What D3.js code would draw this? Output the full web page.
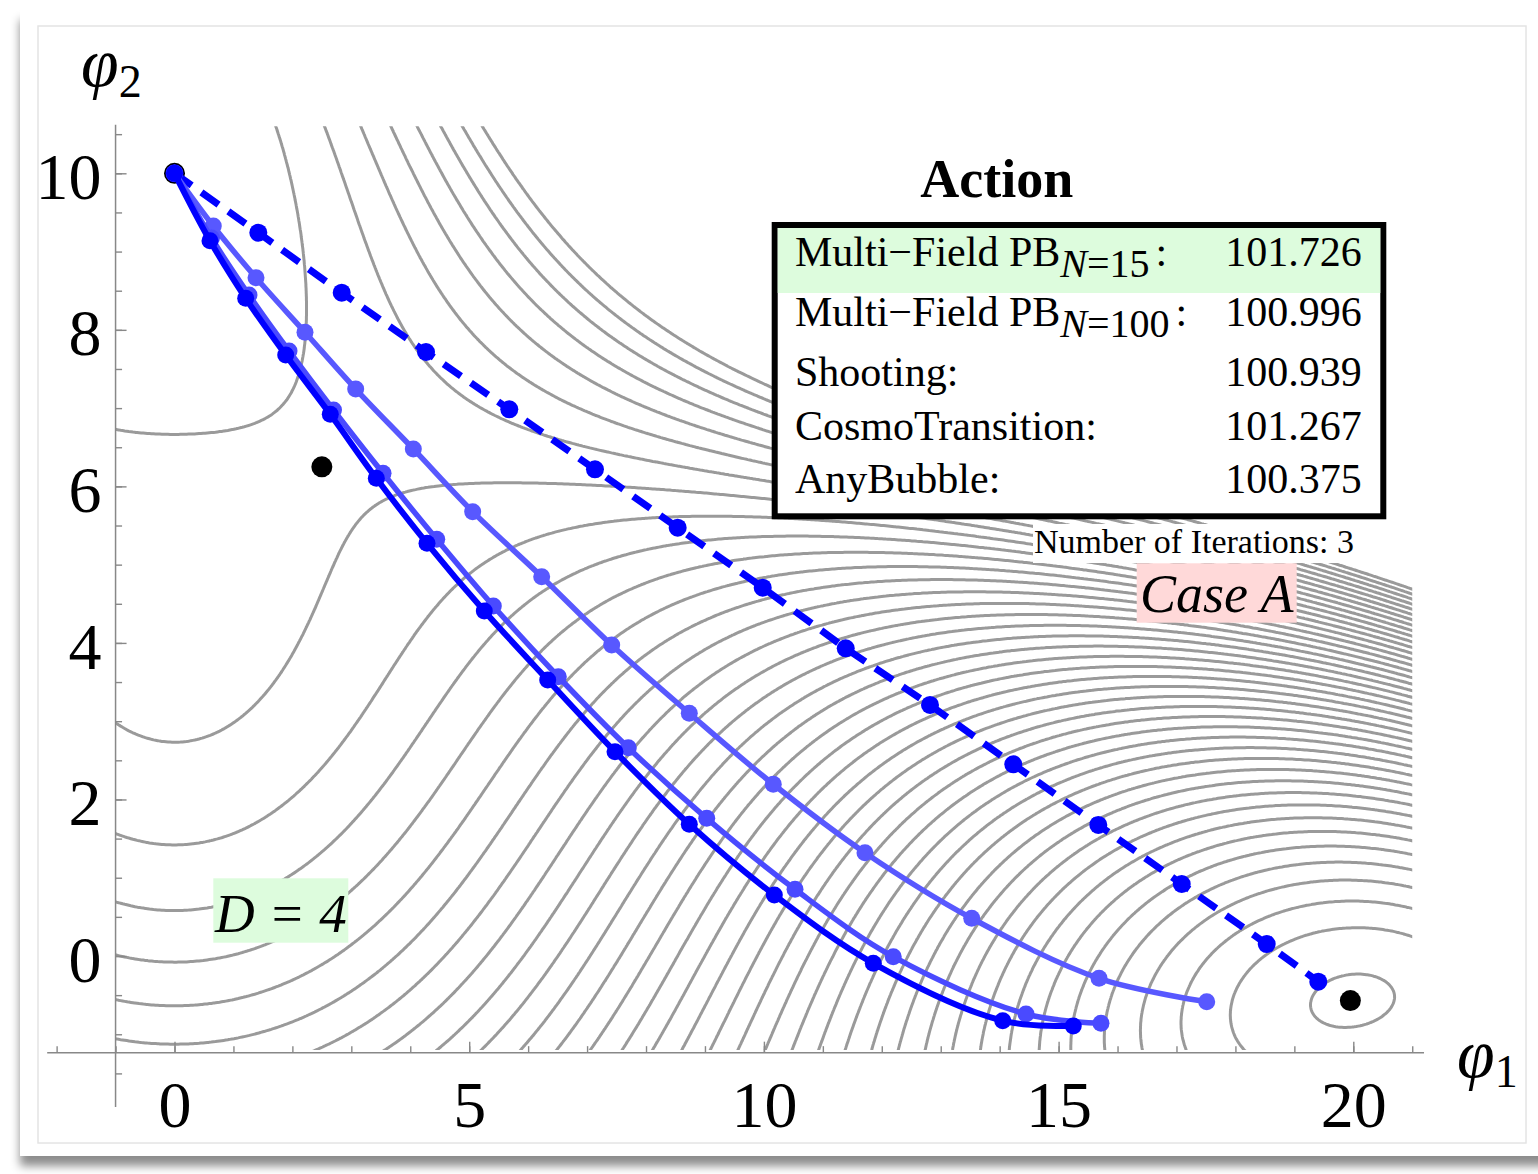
<!DOCTYPE html>
<html lang="en">
<head>
<meta charset="UTF-8">
<title>Case A: multi-field bounce paths</title>
<script src="https://d3js.org/d3.v7.min.js"></script>
<style>
  body { margin: 0; background: #fff; }
  text { font-family: "Liberation Serif", "Times New Roman", serif; fill: #000; }
  .contour { fill: none; stroke: #9a9a9a; stroke-width: 3; }
</style>
</head>
<body>
<script>
// ---------- data ----------
// potential V(phi1, phi2) as terms [coefficient, power of phi1, power of phi2]
const potentialTerms = [
  [1, 4, 0], [20.6, 2, 2], [2.0997, 0, 4], [-1.54, 2, 1],
  [23.20, 0, 3], [-807.6, 2, 0], [-1198.6, 0, 2], [8612.3, 0, 1]
];
const contourBase = 15170;
const contourStep = 5285;
const contourLevels = d3.range(-34, 8).map(k => contourBase + k * contourStep);

// straight initial guess (dashed)
const initialPath = [
  [0, 10], [1.422, 9.241], [2.837, 8.475], [4.267, 7.717], [5.680, 6.985],
  [7.134, 6.218], [8.537, 5.472], [9.980, 4.706], [11.388, 3.931], [12.818, 3.207],
  [14.231, 2.449], [15.674, 1.674], [17.089, 0.920], [18.531, 0.153], [19.406, -0.328]
];
// iterations 1..3
const iteration1 = [
  [0, 10], [0.658, 9.327], [1.383, 8.666], [2.214, 7.969], [3.074, 7.244],
  [4.052, 6.478], [5.059, 5.677], [6.230, 4.846], [7.418, 3.973], [8.734, 3.101],
  [10.159, 2.194], [11.715, 1.320], [13.526, 0.482], [15.686, -0.285], [17.513, -0.584]
];
const iteration2 = [
  [0, 10], [0.628, 9.173], [1.264, 8.445], [1.943, 7.730], [2.698, 6.976],
  [3.538, 6.167], [4.449, 5.324], [5.409, 4.472], [6.512, 3.568], [7.699, 2.661],
  [9.030, 1.759], [10.528, 0.852], [12.195, -0.009], [14.447, -0.741], [15.719, -0.860]
];
const iteration3 = [
  [0, 10], [0.602, 9.139], [1.208, 8.403], [1.887, 7.679], [2.643, 6.921],
  [3.424, 6.103], [4.284, 5.273], [5.256, 4.408], [6.332, 3.526], [7.474, 2.610],
  [8.734, 1.683], [10.177, 0.779], [11.856, -0.093], [14.052, -0.827], [15.249, -0.894]
];
// false vacuum, saddle, true vacuum
const stationaryPoints = [[0, 10], [2.5, 6.25], [19.95, -0.57]];

const xMajorTicks = [0, 5, 10, 15, 20];
const yMajorTicks = [0, 2, 4, 6, 8, 10];

const methodNames = ["Multi\u2212Field PB", "Multi\u2212Field PB", "Shooting:", "CosmoTransition:", "AnyBubble:"];
const methodSubscripts = ["15", "100", null, null, null];
const actionValues = [101.726, 100.996, 100.939, 101.267, 100.375];

// ---------- setup ----------
const W = 1538, H = 1174;
const svg = d3.select("body").append("svg").attr("width", W).attr("height", H);

const xScale = d3.scaleLinear().domain([0, 20]).range([174.5, 1353.3]);
const yScale = d3.scaleLinear().domain([0, 10]).range([956, 173.3]);

const defs = svg.append("defs");
const shadow = defs.append("filter").attr("id", "shadow")
  .attr("x", "-5%").attr("y", "-5%").attr("width", "110%").attr("height", "115%");
shadow.append("feDropShadow").attr("dx", 0).attr("dy", 10).attr("stdDeviation", 5)
  .attr("flood-color", "#000").attr("flood-opacity", 0.45);

defs.append("clipPath").attr("id", "plotClip").append("rect")
  .attr("x", xScale(-1)).attr("y", yScale(10.6))
  .attr("width", xScale(21) - xScale(-1))
  .attr("height", yScale(-1.2) - yScale(10.6));

// window card + inner frame
svg.append("rect").attr("x", 20).attr("y", 10).attr("width", 1540).attr("height", 1146)
  .attr("fill", "#fff").attr("filter", "url(#shadow)");
svg.append("rect").attr("x", 38).attr("y", 26).attr("width", 1488).attr("height", 1117)
  .attr("fill", "#fff").attr("stroke", "#e4e4e4").attr("stroke-width", 1.5);

// ---------- contours ----------
const V = (x, y) => {
  let s = 0;
  for (const [c, px, py] of potentialTerms) s += c * Math.pow(x, px) * Math.pow(y, py);
  return s;
};
const gx0 = -1.3, gx1 = 21.3, gy0 = -1.5, gy1 = 10.9, gdx = 0.035, gdy = 0.018;
const nx = Math.round((gx1 - gx0) / gdx) + 1;
const ny = Math.round((gy1 - gy0) / gdy) + 1;
const grid = new Float64Array(nx * ny);
for (let j = 0; j < ny; j++) {
  const y = gy0 + j * gdy;
  for (let i = 0; i < nx; i++) grid[j * nx + i] = V(gx0 + i * gdx, y);
}
const contours = d3.contours().size([nx, ny]).thresholds(contourLevels)(grid);

const toPx = ([cx, cy]) =>
  xScale(gx0 + (cx - 0.5) * gdx).toFixed(1) + "," + yScale(gy0 + (cy - 0.5) * gdy).toFixed(1);
const ringPath = mp => mp.coordinates
  .map(poly => poly.map(ring => "M" + ring.map(toPx).join("L") + "Z").join(""))
  .join("");

svg.append("g").attr("clip-path", "url(#plotClip)")
  .selectAll("path").data(contours).join("path")
  .attr("class", "contour").attr("d", ringPath);

// ---------- axes ----------
const axisColor = "#888";
const xAxisY = yScale(-1.235);
const xg = svg.append("g").attr("transform", `translate(0,${xAxisY})`).attr("color", axisColor);
xg.append("g").call(d3.axisBottom(xScale).tickValues(d3.range(-2, 22)).tickSize(-6.5).tickFormat(""));
xg.append("g").call(d3.axisBottom(xScale).tickValues(xMajorTicks).tickSize(-11).tickFormat(d3.format("d")));
xg.selectAll(".domain").remove();
xg.selectAll(".tick line").attr("stroke-width", 1.4);
xg.selectAll("g").attr("font-family", null).attr("font-size", null);
xg.selectAll(".tick text").attr("y", 74).attr("dy", null)
  .attr("fill", "#000").style("font-size", "66px");
xg.append("line").attr("x1", xScale(-2.16)).attr("x2", xScale(21.2))
  .attr("stroke", axisColor).attr("stroke-width", 1.5);

const yg = svg.append("g").attr("transform", `translate(${xScale(-1)},0)`).attr("color", axisColor);
yg.append("g").call(d3.axisLeft(yScale).tickValues(d3.range(-1.5, 10.51, 0.5)).tickSize(-6.5).tickFormat(""));
yg.append("g").call(d3.axisLeft(yScale).tickValues(yMajorTicks).tickSize(-11).tickPadding(14).tickFormat(d3.format("d")));
yg.selectAll(".domain").remove();
yg.selectAll(".tick line").attr("stroke-width", 1.4);
yg.selectAll("g").attr("font-family", null).attr("font-size", null);
yg.selectAll(".tick text").attr("dy", "0.38em")
  .attr("fill", "#000").style("font-size", "66px");
yg.append("line").attr("y1", yScale(10.62)).attr("y2", yScale(-1.93))
  .attr("stroke", axisColor).attr("stroke-width", 1.5);

// axis labels
const phi2 = svg.append("text").attr("x", 81).attr("y", 86);
phi2.append("tspan").style("font-style", "italic").style("font-size", "68px").text("\u03C6");
phi2.append("tspan").attr("dy", 11).style("font-size", "46px").text("2");
const phi1 = svg.append("text").attr("x", 1457).attr("y", 1077);
phi1.append("tspan").style("font-style", "italic").style("font-size", "68px").text("\u03C6");
phi1.append("tspan").attr("dy", 10).style("font-size", "46px").text("1");

// ---------- paths ----------
const line = d3.line().x(d => xScale(d[0])).y(d => yScale(d[1]));
const plot = svg.append("g");

plot.selectAll("circle.vac").data(stationaryPoints).join("circle")
  .attr("class", "vac").attr("cx", d => xScale(d[0])).attr("cy", d => yScale(d[1]))
  .attr("r", 10.5).attr("fill", "#000");

const series = [
  { pts: initialPath, color: "#0000ff", width: 7, dash: "21,12", curve: d3.curveLinear, r: 9 },
  { pts: iteration1, color: "#5858ff", width: 5.5, dash: null, curve: d3.curveCatmullRom, r: 8.5 },
  { pts: iteration2, color: "#4a4aff", width: 5.5, dash: null, curve: d3.curveCatmullRom, r: 8.5 },
  { pts: iteration3, color: "#0000ff", width: 6, dash: null, curve: d3.curveCatmullRom, r: 8.5 }
];
series.forEach(s => {
  const g = plot.append("g");
  g.append("path").attr("d", line.curve(s.curve)(s.pts))
    .attr("fill", "none").attr("stroke", s.color).attr("stroke-width", s.width)
    .attr("stroke-dasharray", s.dash);
  g.selectAll("circle").data(s.pts).join("circle")
    .attr("cx", d => xScale(d[0])).attr("cy", d => yScale(d[1]))
    .attr("r", s.r).attr("fill", s.color);
});

// ---------- action table ----------
const box = { x0: 774.7, x1: 1383.3, y0: 225, y1: 516.3 };
svg.append("text").attr("x", 996.7).attr("y", 196.7).attr("text-anchor", "middle")
  .style("font-size", "54px").style("font-weight", "bold").text("Action");
svg.append("rect").attr("x", box.x0).attr("y", box.y0)
  .attr("width", box.x1 - box.x0).attr("height", box.y1 - box.y0)
  .attr("fill", "#fff").attr("stroke", "#000").attr("stroke-width", 6);
svg.append("rect").attr("x", box.x0 + 3).attr("y", box.y0 + 3)
  .attr("width", box.x1 - box.x0 - 6).attr("height", 65)
  .attr("fill", "#ddfcdd");

const rowBaselines = [266, 326, 386, 439.5, 493];
methodNames.forEach((name, i) => {
  const t = svg.append("text").attr("x", 795).attr("y", rowBaselines[i]).style("font-size", "42px");
  t.append("tspan").text(name);
  if (methodSubscripts[i]) {
    t.append("tspan").attr("dy", 11).style("font-size", "40px").style("font-style", "italic").text("N");
    t.append("tspan").style("font-size", "40px").text("=" + methodSubscripts[i]);
    t.append("tspan").attr("dy", -11).attr("dx", 6).text(":");
  }
  svg.append("text").attr("x", 1361.7).attr("y", rowBaselines[i]).attr("text-anchor", "end")
    .style("font-size", "42px").text(d3.format(".3f")(actionValues[i]));
});

// iterations note
svg.append("rect").attr("x", 1033).attr("y", 524).attr("width", 326).attr("height", 39).attr("fill", "#fff");
svg.append("text").attr("x", 1354).attr("y", 553.3).attr("text-anchor", "end")
  .style("font-size", "34px").text("Number of Iterations: 3");

// Case A label
svg.append("rect").attr("x", 1136.7).attr("y", 563.3).attr("width", 160).attr("height", 59.4).attr("fill", "#ffd9d9");
svg.append("text").attr("x", 1216.7).attr("y", 611.7).attr("text-anchor", "middle")
  .style("font-size", "54px").style("font-style", "italic").text("Case A");

// D = 4 label
svg.append("rect").attr("x", 213.3).attr("y", 878.3).attr("width", 135).attr("height", 64.4).attr("fill", "#ddfcdd");
svg.append("text").attr("x", 280.8).attr("y", 931.7).attr("text-anchor", "middle")
  .style("font-size", "55px").style("font-style", "italic").text("D = 4");
</script>
</body>
</html>
